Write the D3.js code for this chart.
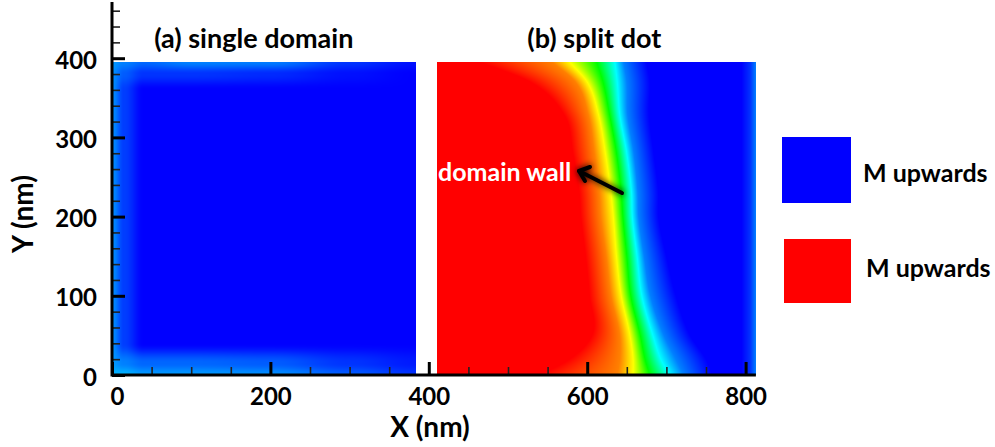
<!DOCTYPE html>
<html>
<head>
<meta charset="utf-8">
<script src="https://cdn.jsdelivr.net/npm/d3@7"></script>
<style>
body { margin: 0; background: #fff; }
text { font-family: Lato, "Open Sans", sans-serif; font-weight: bold; }
</style>
</head>
<body>
<script>
// axis ticks (nm)
var xMajor = [0, 200, 400, 600, 800];
var xMinor = [50, 100, 150, 250, 300, 350, 450, 500, 550, 650, 700, 750];
var yMajor = [0, 100, 200, 300, 400];
var yMinor = [20, 40, 60, 80, 120, 140, 160, 180, 220, 240, 260, 280, 320, 340, 360, 380, 420, 440, 460];

// panel titles and legend
var panelNames = ["(a) single domain", "(b) split dot"];
var panelCentres = [179, 609];
var legendLabels = ["M upwards", "M upwards"];
var legendColors = ["#0000ff", "#ff0000"];

// extent of the two dots (nm)
var dotA = [0, 384];
var dotB = [410, 813];
var dotTop = 395;

// colour map, mz from -1 to 1
var mzLevels = [-1, -0.5, 0, 0.5, 1];
var mzColors = ["#0000ff", "#00ffff", "#00ff00", "#ffff00", "#ff0000"];

// (a) single domain: mz read on a coarse grid
var singleX = [0, 15, 40, 100, 200, 300, 384];
var singleY = [0, 15, 40, 360, 380, 395];
var singleMz = [
  [-0.65, -0.65, -0.7, -0.7, -0.72, -0.82, -0.9],
  [-0.7, -0.75, -0.8, -0.8, -0.82, -0.9, -0.95],
  [-0.72, -0.88, -1, -1, -1, -1, -1],
  [-0.72, -0.88, -1, -1, -1, -1, -1],
  [-0.72, -0.82, -0.9, -0.9, -0.92, -0.97, -1],
  [-0.7, -0.75, -0.8, -0.75, -0.76, -0.9, -0.97]
];

// (b) split dot: x (nm) where mz crosses each level, row by row
var isoLevels = [1, 0.75, 0.5, 0, -0.5, -0.75, -1];
var wallRowY = [0, 20, 50, 100, 150, 200, 230, 280, 330, 370, 395];
var wallRows = [
  [540, 638, 658, 679, 704, 722, 758],
  [578, 641, 658, 673, 693, 712, 750],
  [606, 641, 654, 667, 683, 697, 730],
  [603, 630, 643, 655, 669, 680, 712],
  [598, 624, 637, 650, 663, 672, 700],
  [592, 617, 633, 645, 657, 665, 690],
  [590, 615, 630, 643, 656, 664, 690],
  [582, 609, 623, 637, 650, 659, 684],
  [570, 601, 614, 628, 641, 651, 678],
  [528, 585, 600, 620, 638, 650, 679],
  [465, 556, 578, 612, 635, 646, 675]
];
var edgeX = [795, 806, 813];
var edgeMz = [-1, -0.9, -0.75];

var w = 995, h = 447;

var x = d3.scaleLinear().domain([0, 800]).range([112, 745.6]);
var y = d3.scaleLinear().domain([0, 400]).range([375, 58.2]);
var color = d3.scaleLinear().domain(mzLevels).range(mzColors).clamp(true);

var svg = d3.select("body").append("svg")
  .attr("width", w)
  .attr("height", h);

function clamp(v, a, b) { return Math.min(Math.max(v, a), b); }

// grid lookup with smooth weights
function gridLookup(xs, ys, grid, xv, yv) {
  var i = clamp(d3.bisectRight(xs, xv) - 1, 0, xs.length - 2);
  var j = clamp(d3.bisectRight(ys, yv) - 1, 0, ys.length - 2);
  var tx = clamp((xv - xs[i]) / (xs[i + 1] - xs[i]), 0, 1);
  var ty = clamp((yv - ys[j]) / (ys[j + 1] - ys[j]), 0, 1);
  tx = tx * tx * (3 - 2 * tx);
  ty = ty * ty * (3 - 2 * ty);
  var a = grid[j][i] * (1 - tx) + grid[j][i + 1] * tx;
  var b = grid[j + 1][i] * (1 - tx) + grid[j + 1][i + 1] * tx;
  return a * (1 - ty) + b * ty;
}

// smooth curve through the rows (cubic hermite)
function hermite(xs, vs) {
  var n = xs.length, d = [], m = [];
  for (var i = 0; i < n - 1; i++) d[i] = (vs[i + 1] - vs[i]) / (xs[i + 1] - xs[i]);
  m[0] = d[0];
  m[n - 1] = d[n - 2];
  for (var i = 1; i < n - 1; i++) m[i] = (d[i - 1] + d[i]) / 2;
  return function(t) {
    t = clamp(t, xs[0], xs[n - 1]);
    var k = clamp(d3.bisectRight(xs, t) - 1, 0, n - 2);
    var hh = xs[k + 1] - xs[k], s = (t - xs[k]) / hh;
    var s2 = s * s, s3 = s2 * s;
    return (2 * s3 - 3 * s2 + 1) * vs[k] + (s3 - 2 * s2 + s) * hh * m[k] +
           (-2 * s3 + 3 * s2) * vs[k + 1] + (s3 - s2) * hh * m[k + 1];
  };
}

var isoCurves = isoLevels.map(function(l, k) {
  return hermite(wallRowY, wallRows.map(function(r) { return r[k]; }));
});
var edge = d3.scaleLinear().domain(edgeX).range(edgeMz).clamp(true);

// paint the field into a canvas, then put it in the svg
var ix0 = Math.floor(x(dotA[0])), ix1 = Math.ceil(x(dotB[1]));
var iy0 = Math.floor(y(dotTop)), iy1 = Math.ceil(y(0));
var cw = ix1 - ix0, ch = iy1 - iy0;
var canvas = document.createElement("canvas");
canvas.width = cw;
canvas.height = ch;
var ctx = canvas.getContext("2d");
var img = ctx.createImageData(cw, ch);

for (var j = 0; j < ch; j++) {
  var yn = y.invert(iy0 + j + 0.5);
  if (yn > dotTop || yn < 0) continue;
  var isoX = isoCurves.map(function(f) { return f(yn); });
  var wall = d3.scaleLinear().domain(isoX).range(isoLevels).clamp(true);
  for (var i = 0; i < cw; i++) {
    var xn = x.invert(ix0 + i + 0.5);
    var mz;
    if (xn >= dotA[0] && xn <= dotA[1]) mz = gridLookup(singleX, singleY, singleMz, xn, yn);
    else if (xn >= dotB[0] && xn <= dotB[1]) mz = Math.max(wall(xn), edge(xn));
    else continue;
    var c = d3.rgb(color(mz));
    var p = (j * cw + i) * 4;
    img.data[p] = c.r;
    img.data[p + 1] = c.g;
    img.data[p + 2] = c.b;
    img.data[p + 3] = 255;
  }
}
ctx.putImageData(img, 0, 0);

svg.append("image")
  .attr("x", ix0)
  .attr("y", iy0)
  .attr("width", cw)
  .attr("height", ch)
  .attr("href", canvas.toDataURL());

// x axis
var xAxisY = y(0);
svg.append("g")
  .attr("transform", "translate(0," + xAxisY + ")")
  .call(d3.axisBottom(x).tickValues(xMinor).tickSize(-8).tickSizeOuter(0).tickFormat(""))
  .call(function(g) {
    g.select(".domain").remove();
    g.selectAll("line").attr("stroke", "#222").attr("stroke-width", 1.6);
  });
svg.append("g")
  .attr("transform", "translate(0," + xAxisY + ")")
  .call(d3.axisBottom(x).tickValues(xMajor).tickSize(-13).tickSizeOuter(0).tickPadding(13))
  .call(function(g) {
    g.select(".domain").remove();
    g.selectAll("line").attr("stroke", "#000").attr("stroke-width", 3);
    g.selectAll("text")
      .attr("font-size", 24)
      .attr("fill", "#000")
      .attr("font-family", "Lato, sans-serif")
      .attr("font-weight", "bold")
      .attr("dx", function(d) { return d === 0 ? 5 : 0; });
  });

// y axis
svg.append("g")
  .attr("transform", "translate(" + x(0) + ",0)")
  .call(d3.axisLeft(y).tickValues(yMinor).tickSize(-8).tickSizeOuter(0).tickFormat(""))
  .call(function(g) {
    g.select(".domain").remove();
    g.selectAll("line").attr("stroke", "#222").attr("stroke-width", 1.6);
  });
svg.append("g")
  .attr("transform", "translate(" + x(0) + ",0)")
  .call(d3.axisLeft(y).tickValues(yMajor).tickSize(-13).tickSizeOuter(0).tickPadding(15))
  .call(function(g) {
    g.select(".domain").remove();
    g.selectAll("line").attr("stroke", "#000").attr("stroke-width", 3);
    g.selectAll("text")
      .attr("font-size", 24)
      .attr("fill", "#000")
      .attr("font-family", "Lato, sans-serif")
      .attr("font-weight", "bold")
      .attr("dy", "0.42em");
  });

// axis lines
svg.append("line")
  .attr("x1", x(0)).attr("x2", x(dotB[1]))
  .attr("y1", xAxisY).attr("y2", xAxisY)
  .attr("stroke", "#000").attr("stroke-width", 3);
svg.append("line")
  .attr("x1", x(0)).attr("x2", x(0))
  .attr("y1", xAxisY + 1.5).attr("y2", y(471))
  .attr("stroke", "#000").attr("stroke-width", 3);

// axis titles
svg.append("text")
  .attr("x", 430)
  .attr("y", 437)
  .attr("text-anchor", "middle")
  .attr("font-size", 28)
  .text("X (nm)");

svg.append("text")
  .attr("transform", "translate(33," + 214 + ") rotate(-90)")
  .attr("text-anchor", "middle")
  .attr("font-size", 28)
  .text("Y (nm)");

// panel titles
svg.selectAll(".panelName")
  .data(panelNames)
  .enter()
  .append("text")
  .attr("class", "panelName")
  .attr("x", function(d, i) { return x(panelCentres[i]); })
  .attr("y", 48)
  .attr("text-anchor", "middle")
  .attr("font-size", 27)
  .text(function(d) { return d; });

// domain wall annotation
var defs = svg.append("defs");
var shadow = defs.append("filter").attr("id", "shadow")
  .attr("x", "-50%").attr("y", "-50%").attr("width", "200%").attr("height", "200%");
shadow.append("feGaussianBlur").attr("in", "SourceAlpha").attr("stdDeviation", 3).attr("result", "blur");
var merge = shadow.append("feMerge");
merge.append("feMergeNode").attr("in", "blur");
merge.append("feMergeNode").attr("in", "SourceGraphic");

var tail = [x.invert(622), y.invert(193)];
var head = [x.invert(579), y.invert(171)];
var arrow = svg.append("g").attr("filter", "url(#shadow)");
arrow.append("line")
  .attr("x1", x(tail[0])).attr("y1", y(tail[1]))
  .attr("x2", x(head[0])).attr("y2", y(head[1]))
  .attr("stroke", "#000").attr("stroke-width", 4).attr("stroke-linecap", "round");
arrow.append("path")
  .attr("d", "M" + (x(head[0]) + 11) + "," + (y(head[1]) - 4) +
             "L" + x(head[0]) + "," + y(head[1]) +
             "L" + (x(head[0]) + 6) + "," + (y(head[1]) + 10))
  .attr("fill", "none")
  .attr("stroke", "#000").attr("stroke-width", 4)
  .attr("stroke-linecap", "round").attr("stroke-linejoin", "round");

svg.append("text")
  .attr("x", 438)
  .attr("y", 181)
  .attr("font-size", 25)
  .attr("fill", "#fff")
  .text("domain wall");

// legend
var legend = svg.selectAll(".legend")
  .data(legendLabels)
  .enter()
  .append("g")
  .attr("class", "legend");
legend.append("rect")
  .attr("x", function(d, i) { return i === 0 ? 782 : 784; })
  .attr("y", function(d, i) { return i === 0 ? 137 : 239; })
  .attr("width", function(d, i) { return i === 0 ? 69 : 67; })
  .attr("height", function(d, i) { return i === 0 ? 66 : 64; })
  .attr("fill", function(d, i) { return legendColors[i]; });
legend.append("text")
  .attr("x", function(d, i) { return i === 0 ? 863 : 866; })
  .attr("y", function(d, i) { return i === 0 ? 182 : 277; })
  .attr("font-size", 25)
  .text(function(d) { return d; });
</script>
</body>
</html>
